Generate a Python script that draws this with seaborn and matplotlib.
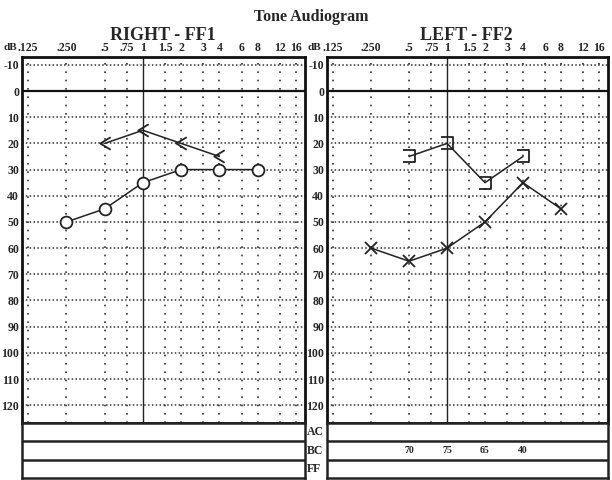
import numpy as np
import seaborn as sns
import matplotlib.pyplot as plt
from matplotlib.path import Path

sns.set_style("white")
plt.rcParams['font.family'] = ['Liberation Serif', 'DejaVu Serif']
plt.rcParams['font.weight'] = 'bold'

# frequency columns (kHz) and their printed labels
freqs = [0.125, 0.25, 0.5, 0.75, 1, 1.5, 2, 3, 4, 6, 8, 12, 16]
freq_labels = ['.125', '.250', '.5', '.75', '1', '1.5', '2', '3', '4', '6', '8', '12', '16']
db_ticks = list(range(-10, 130, 10))

# right ear
right_ac_freqs = [0.25, 0.5, 1, 2, 4, 8]
right_ac_db = [50, 45, 35, 30, 30, 30]
right_bc_freqs = [0.5, 1, 2, 4]
right_bc_db = [20, 15, 20, 25]

# left ear
left_ac_freqs = [0.25, 0.5, 1, 2, 4, 8]
left_ac_db = [60, 65, 60, 50, 35, 45]
left_bc_freqs = [0.5, 1, 2, 4]
left_bc_db = [25, 20, 35, 25]

# BC row of the table under the left panel
left_bc_row_freqs = [0.5, 1, 2, 4]
left_bc_row_vals = ['70', '75', '65', '40']

lt_marker = Path([(0.5, 0.6), (-0.5, 0), (0.5, -0.6)], [Path.MOVETO, Path.LINETO, Path.LINETO])
rb_marker = Path([(-0.5, 0.5), (0.5, 0.5), (0.5, -0.5), (-0.5, -0.5)],
                 [Path.MOVETO, Path.LINETO, Path.LINETO, Path.LINETO])

W, H = 612, 480
fig = plt.figure(figsize=(6.12, 4.80), dpi=100)


def px(x0, y0, x1, y1):
    return [x0 / W, 1 - y1 / H, (x1 - x0) / W, (y1 - y0) / H]


def setup(ax):
    ax.set_xscale('log', base=2)
    ax.set_xlim(0.1117, 18.9)
    ax.set_ylim(126.8, -13)
    for f in freqs:
        if f == 1:
            ax.axvline(f, color='#222', lw=1.0)
        else:
            ax.axvline(f, color='#333', lw=1.2, ls=(0, (1, 4.0)))
    for d in db_ticks:
        if d == 0:
            ax.axhline(d, color='#111', lw=1.6)
        else:
            ax.axhline(d, color='#333', lw=1.1, ls=(0, (1, 1.5)))
    ax.xaxis.tick_top()
    ax.set_xticks(freqs)
    ax.set_xticklabels(freq_labels, fontsize=8.5)
    ax.minorticks_off()
    ax.set_yticks(db_ticks)
    ax.set_yticklabels([str(d) for d in db_ticks], fontsize=8.5)
    ax.tick_params(length=0, pad=2)
    for s in ax.spines.values():
        s.set_linewidth(2)
        s.set_color('#111')
    ax.set_xlabel('')
    ax.set_ylabel('')


def table(ax, main):
    ax.set_xscale('log', base=2)
    ax.set_xlim(main.get_xlim())
    ax.set_ylim(0, 3)
    ax.axhline(1, color='#222', lw=1.8)
    ax.axhline(2, color='#222', lw=1.8)
    ax.set_xticks([])
    ax.set_yticks([])
    ax.minorticks_off()
    for s in ax.spines.values():
        s.set_linewidth(1.8)
        s.set_color('#222')


ax_r = fig.add_axes(px(22, 57, 305, 423))
ax_l = fig.add_axes(px(327, 57, 608, 423))
tb_r = fig.add_axes(px(22, 423, 305, 478))
tb_l = fig.add_axes(px(327, 423, 608, 478))

setup(ax_r)
setup(ax_l)

sns.lineplot(x=right_ac_freqs, y=right_ac_db, ax=ax_r, color='#222', lw=1.1,
             marker='o', markersize=8.5, markerfacecolor='white', markeredgecolor='#222', markeredgewidth=1.3)
sns.lineplot(x=right_bc_freqs, y=right_bc_db, ax=ax_r, color='#222', lw=1.1,
             marker=lt_marker, markersize=9, markerfacecolor='none', markeredgecolor='#222', markeredgewidth=1.3)
sns.lineplot(x=left_ac_freqs, y=left_ac_db, ax=ax_l, color='#222', lw=1.1,
             marker='x', markersize=9, markeredgecolor='#222', markeredgewidth=1.3)
sns.lineplot(x=left_bc_freqs, y=left_bc_db, ax=ax_l, color='#222', lw=1.1,
             marker=rb_marker, markersize=9, markerfacecolor='none', markeredgecolor='#222', markeredgewidth=1.3)

for ax in (ax_r, ax_l):
    ax.set_xlim(0.1117, 18.9)
    ax.set_ylim(126.8, -13)

table(tb_r, ax_r)
table(tb_l, ax_l)
for f, v in zip(left_bc_row_freqs, left_bc_row_vals):
    tb_l.text(f, 1.5, v, ha='center', va='center', fontsize=7)

fig.text(311 / W, 1 - 17 / H, 'Tone Audiogram', ha='center', va='center', fontsize=11.5, fontweight='bold')
fig.text(163 / W, 1 - 35 / H, 'RIGHT - FF1', ha='center', va='center', fontsize=13, fontweight='bold')
fig.text(466 / W, 1 - 35 / H, 'LEFT - FF2', ha='center', va='center', fontsize=13, fontweight='bold')
fig.text(3 / W, 1 - 47 / H, 'dB', ha='left', va='center', fontsize=8)
fig.text(307 / W, 1 - 47 / H, 'dB', ha='left', va='center', fontsize=8)
for i, lab in enumerate(['AC', 'BC', 'FF']):
    fig.text(307 / W, 1 - (432 + i * 18.5) / H, lab, ha='left', va='center', fontsize=8.5)

fig.savefig('out.png', dpi=100, facecolor='white')
